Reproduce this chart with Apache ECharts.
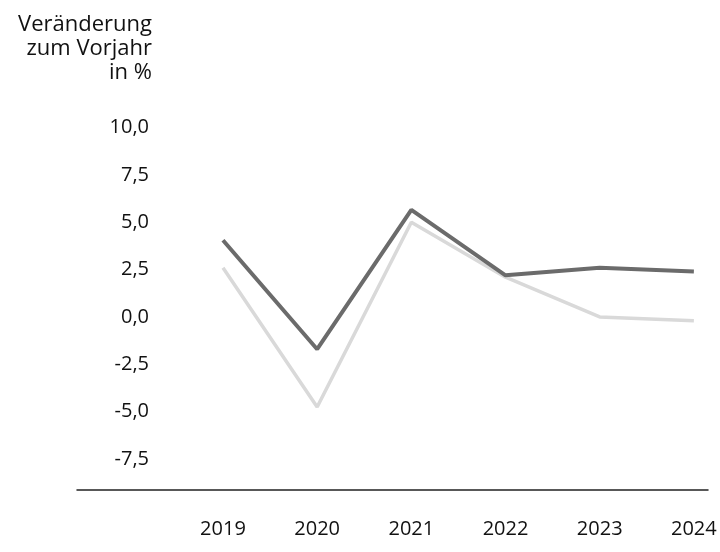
<!DOCTYPE html>
<html><head><meta charset="utf-8">
<script src="https://cdn.jsdelivr.net/npm/echarts@6/dist/echarts.min.js"></script>
<style>html,body{margin:0;padding:0;background:#fff}#c{width:720px;height:552px}</style>
</head><body><div id="c"></div>
<script>
const years = [2019, 2020, 2021, 2022, 2023, 2024];
const darkSeries = [4.05, -1.7, 5.65, 2.2, 2.6, 2.4];
const lightSeries = [2.6, -4.75, 5.0, 2.1, 0.0, -0.2];
const yTicks = [-7.5, -5, -2.5, 0, 2.5, 5, 7.5, 10];
const titleText = 'Veränderung\nzum Vorjahr\nin %';

const font = '"Open Sans", "Noto Sans", sans-serif';
const chart = echarts.init(document.getElementById('c'), null, {renderer: 'canvas'});
chart.setOption({
  animation: false,
  backgroundColor: '#fff',
  title: {
    text: titleText,
    left: 147, top: 8, textAlign: 'right',
    textStyle: {fontFamily: font, fontSize: 22, fontWeight: 'normal', color: '#111', lineHeight: 24, align: 'right'}
  },
  grid: {left: 77, right: 12, top: 127.5, bottom: 62.6},
  xAxis: {
    type: 'value', min: 2017.45, max: 2024.15,
    axisLine: {show: true, onZero: false, lineStyle: {color: '#222', width: 1.5}},
    axisTick: {show: false},
    splitLine: {show: false},
    axisLabel: {customValues: years, margin: 30, fontFamily: font, fontSize: 20, color: '#111', formatter: v => String(v)}
  },
  yAxis: {
    type: 'value', min: -9.1, max: 10, offset: -74,
    axisLine: {show: false}, axisTick: {show: false}, splitLine: {show: false},
    axisLabel: {customValues: yTicks, margin: 2, fontFamily: font, fontSize: 20, color: '#111',
      formatter: v => v.toFixed(1).replace('.', ',')}
  },
  series: [
    {type: 'line', data: years.map((y, i) => [y, lightSeries[i]]), showSymbol: false, symbol: 'none',
      lineStyle: {color: '#d9d9d9', width: 3.5}, z: 2},
    {type: 'line', data: years.map((y, i) => [y, darkSeries[i]]), showSymbol: false, symbol: 'none',
      lineStyle: {color: '#6b6b6b', width: 4}, z: 3}
  ]
});
</script></body></html>
